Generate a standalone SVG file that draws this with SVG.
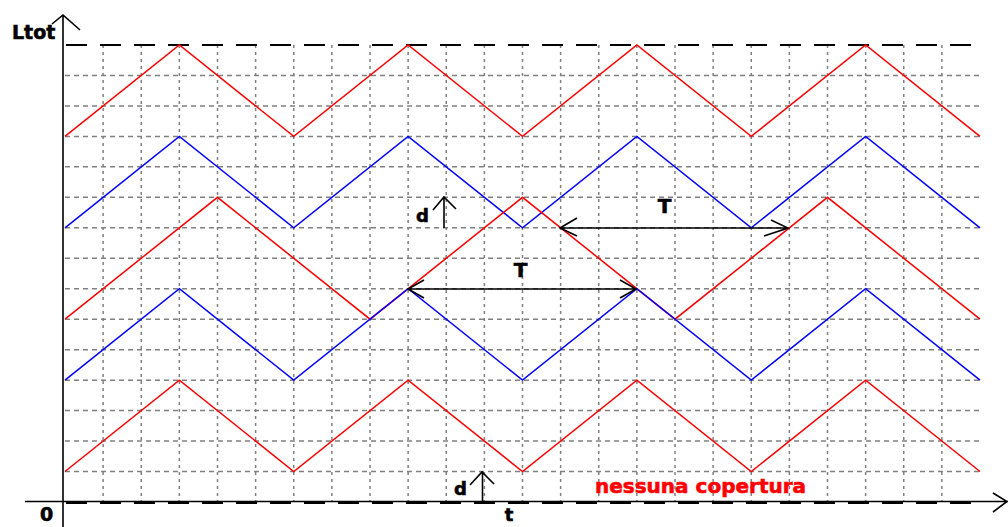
<svg xmlns="http://www.w3.org/2000/svg" width="1008" height="527" viewBox="0 0 1008 527">
<style>
.grid-h{stroke:#808080;stroke-width:1.5;stroke-dasharray:5,4;fill:none}
.grid-v{stroke:#808080;stroke-width:1.5;stroke-dasharray:3,4;fill:none}
.lim{stroke:#000;stroke-width:2;stroke-dasharray:21,13;fill:none}
.ax{stroke:#000;stroke-width:1.6;fill:none}
.red{stroke:#ff0000;stroke-width:1.5;fill:none}
.blue{stroke:#0000ff;stroke-width:1.5;fill:none}
.arr{stroke:#000;stroke-width:1.6;fill:none}
.lbl{font-family:"DejaVu Sans","Liberation Sans",sans-serif;font-weight:bold;fill:#000;stroke:#000;stroke-width:0.6}
.warn{fill:#ff0000;stroke:#ff0000}
</style>
<rect width="1008" height="527" fill="#fff"/>
<g id="grid">
<path class="grid-h" d="M65,75.47H980M65,105.93H980M65,136.4H980M65,166.87H980M65,197.33H980M65,227.8H980M65,258.27H980M65,288.73H980M65,319.2H980M65,349.67H980M65,380.13H980M65,410.6H980M65,441.07H980M65,471.53H980"/>
<path class="grid-v" d="M103.125,45V502M141.25,45V502M179.375,45V502M217.5,45V502M255.625,45V502M293.75,45V502M331.875,45V502M370,45V502M408.125,45V502M446.25,45V502M484.375,45V502M522.5,45V502M560.625,45V502M598.75,45V502M636.875,45V502M675,45V502M713.125,45V502M751.25,45V502M789.375,45V502M827.5,45V502M865.625,45V502M903.75,45V502M941.875,45V502"/>
<path class="lim" d="M66,45H980"/>
<path class="lim" d="M66,503H980"/>
</g>
<g id="axes">
<path class="ax" d="M63,15V527M52,24L63,15L80,30"/>
<path class="ax" d="M25,501.5H1008M993,493L1007,501.5L993,512"/>
</g>
<g id="waves">
<polyline class="red" points="65,136.4 179.375,45 293.75,136.4 408.125,45 522.5,136.4 636.875,45 751.25,136.4 865.625,45 980,136.4"/>
<polyline class="blue" points="65,227.8 179.375,136.4 293.75,227.8 408.125,136.4 522.5,227.8 636.875,136.4 751.25,227.8 865.625,136.4 980,227.8"/>
<polyline class="red" points="65,319.2 217.5,197.33 370,319.2 522.5,197.33 675,319.2 827.5,197.33 980,319.2"/>
<polyline class="blue" points="65,380.13 179.375,288.73 293.75,380.13 408.125,288.73 522.5,380.13 636.875,288.73 751.25,380.13 865.625,288.73 980,380.13"/>
<polyline class="red" points="65,471.53 179.375,380.13 293.75,471.53 408.125,380.13 522.5,471.53 636.875,380.13 751.25,471.53 865.625,380.13 980,471.53"/>
</g>
<g id="connectors">
<path class="arr" d="M444,228V197M433,210L444,197L456,209"/>
<path class="arr" d="M482.5,502V472M470,485L482,472L494,484"/>
<path class="arr" d="M408,289H636M424,280L408,289L424,298M620,280L636,289L620,298"/>
<path class="arr" d="M560,228H788M577,218L560,228L577,236M771,220L788,228L764,236"/>
</g>
<g id="labels">
<text class="lbl" x="12" y="39" font-size="19">Ltot</text>
<text class="lbl" x="40" y="521" font-size="19">0</text>
<text class="lbl" x="509" y="521" font-size="18" text-anchor="middle">t</text>
<text class="lbl" x="416" y="222" font-size="18">d</text>
<text class="lbl" x="454" y="495" font-size="18">d</text>
<text class="lbl" x="664.5" y="213" font-size="20" text-anchor="middle">T</text>
<text class="lbl" x="520.5" y="277" font-size="20" text-anchor="middle">T</text>
<text class="lbl warn" x="595" y="493" font-size="20">nessuna copertura</text>
</g>
</svg>
